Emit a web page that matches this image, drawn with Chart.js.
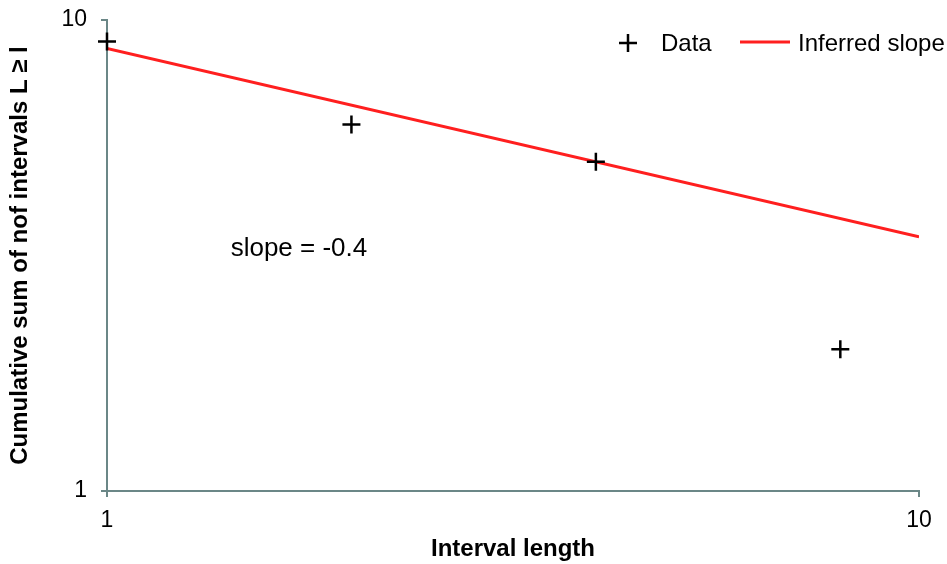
<!DOCTYPE html>
<html>
<head>
<meta charset="utf-8">
<script src="https://cdn.jsdelivr.net/npm/chart.js@4.4.1/dist/chart.umd.min.js"></script>
<style>
  html, body { margin: 0; padding: 0; background: #fff; }
  #wrap { width: 947px; height: 564px; }
</style>
</head>
<body>
<div id="wrap"><canvas id="PowerLaw"></canvas></div>
<script>
// Interval lengths and cumulative counts (log-log)
const intervalLength = [1, 2, 4, 8];
const cumulativeCount = [9, 6, 5, 2];

// Fitted power law: count = intercept * length^slope
const fitRange = [1, 10];
const fitIntercept = 8.7;
const inferredSlope = -0.4;

// Only decades are labelled on both axes
const xTicks = [1, 10];
const yTicks = [1, 10];

const AXIS_GREY = "#6b8787";
const FONT = "'Liberation Sans', Arial, sans-serif";

const fitPoints = fitRange.map((x) => ({ x: x, y: fitIntercept * Math.pow(x, inferredSlope) }));
const dataPoints = intervalLength.map((x, i) => ({ x: x, y: cumulativeCount[i] }));

// Legend in the top right corner, plus the slope note in the plot
const decorations = {
  id: "decorations",
  afterDraw(chart) {
    const ctx = chart.ctx;
    const xs = chart.scales.x;
    const ys = chart.scales.y;
    ctx.save();
    ctx.fillStyle = "#000";
    ctx.textBaseline = "middle";
    ctx.textAlign = "left";

    ctx.font = "26px " + FONT;
    ctx.fillText("slope = " + inferredSlope, xs.getPixelForValue(1.42), ys.getPixelForValue(3.26));

    ctx.font = "24px " + FONT;
    ctx.strokeStyle = "#000";
    ctx.lineWidth = 2.5;
    ctx.beginPath();
    ctx.moveTo(619, 43); ctx.lineTo(637, 43);
    ctx.moveTo(628, 34); ctx.lineTo(628, 52);
    ctx.stroke();
    ctx.fillText(chart.data.datasets[0].label, 661, 44);

    ctx.strokeStyle = chart.data.datasets[1].borderColor;
    ctx.lineWidth = 3;
    ctx.beginPath();
    ctx.moveTo(740, 42); ctx.lineTo(790, 42);
    ctx.stroke();
    ctx.fillText(chart.data.datasets[1].label, 798, 44);
    ctx.restore();
  },
};

const CHART_POWER = document.getElementById("PowerLaw");

if (CHART_POWER != null) {
  let chart_power = new Chart(CHART_POWER, {
    type: "scatter",
    data: {
      datasets: [
        {
          label: "Data",
          data: dataPoints,
          pointStyle: "cross",
          pointRadius: 9,
          pointHoverRadius: 9,
          pointBorderWidth: 2.5,
          borderColor: "#000",
          backgroundColor: "#000",
          clip: false,
        },
        {
          label: "Inferred slope",
          data: fitPoints,
          showLine: true,
          borderColor: "#ff1f1f",
          borderWidth: 3,
          pointRadius: 0,
        },
      ],
    },
    options: {
      responsive: true,
      maintainAspectRatio: false,
      animation: false,
      layout: { padding: { top: 20, right: 28, left: 0, bottom: 0 } },
      plugins: {
        legend: { display: false },
        tooltip: { enabled: false },
      },
      scales: {
        x: {
          type: "logarithmic",
          min: 1,
          max: 10,
          afterBuildTicks: (s) => { s.ticks = xTicks.map((v) => ({ value: v })); },
          afterFit: (s) => { s.height = 73; s.paddingLeft = 0; s.paddingRight = 0; },
          border: { color: AXIS_GREY, width: 2 },
          grid: { drawOnChartArea: false, color: AXIS_GREY, lineWidth: 2, tickLength: 6 },
          ticks: {
            color: "#000",
            padding: 10,
            font: { family: FONT, size: 23 },
            callback: (v) => String(v),
          },
          title: {
            display: true,
            text: "Interval length",
            color: "#000",
            padding: { top: 0, bottom: 0 },
            font: { family: FONT, size: 24, weight: "bold" },
          },
        },
        y: {
          type: "logarithmic",
          min: 1,
          max: 10,
          afterBuildTicks: (s) => { s.ticks = yTicks.map((v) => ({ value: v })); },
          afterFit: (s) => { s.width = 107; s.paddingTop = 0; s.paddingBottom = 0; },
          border: { color: AXIS_GREY, width: 2 },
          grid: { drawOnChartArea: false, color: AXIS_GREY, lineWidth: 2, tickLength: 6 },
          ticks: {
            color: "#000",
            padding: 14,
            font: { family: FONT, size: 23 },
            callback: (v) => String(v),
          },
          title: {
            display: true,
            text: "Cumulative sum of nof intervals L ≥ l",
            color: "#000",
            padding: { top: 6, bottom: 0 },
            font: { family: FONT, size: 24, weight: "bold" },
          },
        },
      },
    },
    plugins: [decorations],
  });
}
</script>
</body>
</html>
